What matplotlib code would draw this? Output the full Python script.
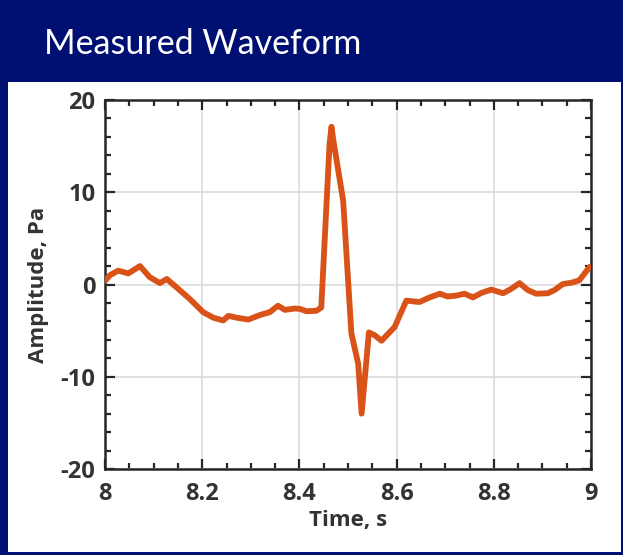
import numpy as np
import matplotlib.pyplot as plt
from matplotlib.patches import Rectangle

plt.rcParams['axes.unicode_minus'] = False

# waveform values
time_s = [8.000, 8.010, 8.027, 8.048, 8.072, 8.092, 8.113, 8.127, 8.147, 8.175,
          8.202, 8.223, 8.243, 8.254, 8.271, 8.295, 8.319, 8.339, 8.356, 8.370,
          8.391, 8.401, 8.415, 8.435, 8.445, 8.462, 8.466, 8.470, 8.490, 8.507,
          8.521, 8.528, 8.543, 8.555, 8.569, 8.596, 8.620, 8.647, 8.668, 8.689,
          8.705, 8.723, 8.740, 8.757, 8.775, 8.795, 8.819, 8.835, 8.853, 8.870,
          8.887, 8.911, 8.925, 8.942, 8.960, 8.976, 8.997]
amp_pa = [0.4, 1.0, 1.5, 1.2, 2.0, 0.8, 0.15, 0.6, -0.3, -1.6,
          -3.0, -3.6, -3.9, -3.4, -3.6, -3.8, -3.3, -3.0, -2.3, -2.75,
          -2.6, -2.65, -2.9, -2.85, -2.5, 15.2, 17.1, 15.6, 9.1, -5.3,
          -8.6, -14.0, -5.2, -5.5, -6.1, -4.6, -1.75, -1.9, -1.4, -1.0,
          -1.3, -1.2, -1.0, -1.4, -0.9, -0.55, -0.95, -0.5, 0.15, -0.6,
          -1.0, -0.95, -0.6, 0.05, 0.2, 0.45, 1.9]

x_ticks = [8, 8.2, 8.4, 8.6, 8.8, 9]
x_labels = ['8', '8.2', '8.4', '8.6', '8.8', '9']
y_ticks = [-20, -10, 0, 10, 20]

navy = '#000f72'

fig = plt.figure(figsize=(6.23, 5.55), dpi=100)
fig.patch.set_facecolor(navy)

# white panel under the banner
fig.patches.append(Rectangle((8 / 623, 3 / 555), 613 / 623, 470 / 555,
                             transform=fig.transFigure, facecolor='white',
                             edgecolor='none', zorder=-5))
fig.text(44 / 623, 1 - 44 / 555, 'Measured Waveform', color='white',
         fontsize=24.5, family='Lato', va='center', ha='left')

ax = fig.add_axes([105 / 623, 1 - 469 / 555, 486 / 623, 369 / 555])
ax.set_zorder(2)
ax.plot(time_s, amp_pa, color='#d95319', lw=4.2, solid_joinstyle='round',
        solid_capstyle='round', zorder=3)

ax.set_xlim(8, 9)
ax.set_ylim(-20, 20)
ax.set_xticks(x_ticks)
ax.set_xticklabels(x_labels)
ax.set_yticks(y_ticks)
ax.set_xticks(np.arange(8, 9.001, 0.05), minor=True)
ax.set_yticks(np.arange(-20, 20.1, 2), minor=True)
ax.grid(True, which='major', color='#dcdcdc', lw=1.2)

ax.tick_params(which='both', direction='in', top=True, right=True,
               color='#262626', width=1.6, labelsize=17, labelcolor='#333333')
ax.tick_params(which='major', length=7)
ax.tick_params(axis='x', which='major', pad=9)
ax.tick_params(axis='y', which='major', pad=7)
ax.tick_params(which='minor', length=4)
for lbl in ax.get_xticklabels() + ax.get_yticklabels():
    lbl.set_fontweight('bold')
    lbl.set_family('Open Sans')
for s in ax.spines.values():
    s.set_linewidth(1.8)
    s.set_color('#262626')

ax.set_xlabel('Time, s', fontsize=16, fontweight='bold', color='#333333',
              family='Open Sans', labelpad=3)
ax.set_ylabel('Amplitude, Pa', fontsize=16, fontweight='bold', color='#333333',
              family='Open Sans', labelpad=8)

plt.savefig('out.png', dpi=100, facecolor=fig.get_facecolor())
